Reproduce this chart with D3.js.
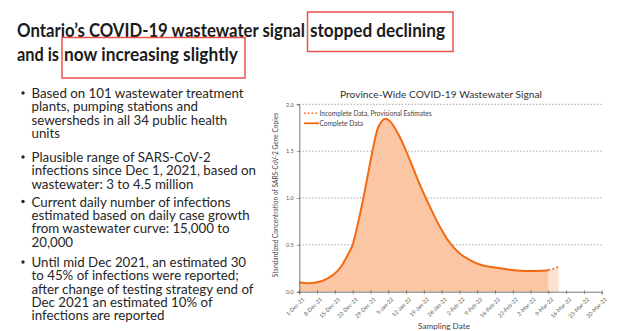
<!DOCTYPE html>
<html>
<head>
<meta charset="utf-8">
<script src="https://cdn.jsdelivr.net/npm/d3@7"></script>
<style>
  html, body { margin: 0; padding: 0; background: #fff; }
  svg { display: block; }
</style>
</head>
<body>
<svg id="canvas" width="640" height="331"></svg>
<script>
// title pieces
const titleLine1 = "Ontario\u2019s COVID-19 wastewater signal ";
const titleBox1 = "stopped declining";
const titleLine2 = "and is ";
const titleBox2 = "now increasing slightly";

// bullet points, one array per bullet (already wrapped like the slide)
const bullets = [
  ["Based on 101 wastewater treatment", "plants, pumping stations and", "sewersheds in all 34 public health", "units"],
  ["Plausible range of SARS-CoV-2", "infections since Dec 1, 2021, based on", "wastewater: 3 to 4.5 million"],
  ["Current daily number of infections", "estimated based on daily case growth", "from wastewater curve: 15,000 to", "20,000"],
  ["Until mid Dec 2021, an estimated 30", "to 45% of infections were reported;", "after change of testing strategy end of", "Dec 2021 an estimated 10% of", "infections are reported"]
];

// wastewater signal, complete data
const sampleDates = ["1-Dec-21", "4-Dec-21", "8-Dec-21", "12-Dec-21", "16-Dec-21", "18-Dec-21", "20-Dec-21",
  "22-Dec-21", "24-Dec-21", "26-Dec-21", "28-Dec-21", "30-Dec-21", "1-Jan-22", "4-Jan-22", "6-Jan-22",
  "9-Jan-22", "13-Jan-22", "17-Jan-22", "21-Jan-22", "25-Jan-22", "29-Jan-22", "2-Feb-22", "6-Feb-22",
  "10-Feb-22", "14-Feb-22", "18-Feb-22", "22-Feb-22", "26-Feb-22", "2-Mar-22", "6-Mar-22", "9-Mar-22"];
const signal = [0.10, 0.09, 0.10, 0.14, 0.22, 0.29, 0.39,
  0.50, 0.72, 0.97, 1.25, 1.53, 1.75, 1.845, 1.81,
  1.68, 1.44, 1.17, 0.93, 0.71, 0.53, 0.41, 0.34,
  0.29, 0.266, 0.25, 0.234, 0.223, 0.22, 0.223, 0.23];

// incomplete data, provisional estimates
const provDates = ["9-Mar-22", "11-Mar-22", "13-Mar-22"];
const provSignal = [0.23, 0.245, 0.265];

const xTickLabels = ["1-Dec-21", "8-Dec-21", "15-Dec-21", "22-Dec-21", "29-Dec-21", "5-Jan-22", "12-Jan-22",
  "19-Jan-22", "26-Jan-22", "2-Feb-22", "9-Feb-22", "16-Feb-22", "23-Feb-22", "2-Mar-22", "9-Mar-22",
  "16-Mar-22", "23-Mar-22", "30-Mar-22"];
const yTicks = [0, 0.5, 1.0, 1.5, 2.0];

const parse = d3.utcParse("%e-%b-%y");
const orange = "#f26a12";
const fillMain = "#fbc6a3";
const fillProv = "#fde2d1";

const svg = d3.select("#canvas");

// ---- slide title
const title = svg.append("g")
  .attr("font-family", "Lato, 'Open Sans', sans-serif")
  .attr("font-weight", "bold")
  .attr("font-size", 19.5)
  .attr("fill", "#1b1b1b");

title.append("text").attr("x", 17).attr("y", 37)
  .attr("textLength", 288).attr("lengthAdjust", "spacingAndGlyphs")
  .text(titleLine1.trim());
title.append("text").attr("x", 310).attr("y", 37)
  .attr("textLength", 135).attr("lengthAdjust", "spacingAndGlyphs")
  .text(titleBox1);
title.append("text").attr("x", 17).attr("y", 61)
  .attr("textLength", 42).attr("lengthAdjust", "spacingAndGlyphs")
  .text(titleLine2.trim());
title.append("text").attr("x", 64).attr("y", 61)
  .attr("textLength", 174).attr("lengthAdjust", "spacingAndGlyphs")
  .text(titleBox2);

svg.append("rect").attr("x", 307.5).attr("y", 12).attr("width", 145.5).attr("height", 39.5)
  .attr("fill", "none").attr("stroke", "#e9534c").attr("stroke-width", 1.5);
svg.append("rect").attr("x", 62).attr("y", 37.5).attr("width", 183).attr("height", 40.5)
  .attr("fill", "none").attr("stroke", "#e9534c").attr("stroke-width", 1.5);

// ---- bullets
const bulletG = svg.append("g")
  .attr("font-family", "Lato, 'Open Sans', sans-serif")
  .attr("font-size", 13.3)
  .attr("fill", "#262626");

const bulletTops = [93.5, 157.5, 202, 262.5];
const lineGap = 13.3;
bullets.forEach((lines, i) => {
  bulletG.append("circle").attr("cx", 23).attr("cy", bulletTops[i] - 0.5).attr("r", 1.7).attr("fill", "#262626");
  lines.forEach((line, j) => {
    bulletG.append("text")
      .attr("x", 31.5)
      .attr("y", bulletTops[i] + j * lineGap + 4.6)
      .text(line);
  });
});

// ---- chart
const x = d3.scaleUtc()
  .domain([parse(xTickLabels[0]), parse(xTickLabels[xTickLabels.length - 1])])
  .range([299.3, 601.7]);
const y = d3.scaleLinear().domain([0, 2]).range([291.7, 104.3]);

const chart = svg.append("g").attr("font-family", "Lato, 'Open Sans', sans-serif");

chart.append("text")
  .attr("x", 441).attr("y", 97.5)
  .attr("text-anchor", "middle")
  .attr("font-size", 10.2)
  .attr("fill", "#333")
  .text("Province-Wide COVID-19 Wastewater Signal");

// gridlines
chart.append("g")
  .selectAll("line")
  .data(yTicks.filter(d => d > 0))
  .join("line")
  .attr("x1", x.range()[0]).attr("x2", x.range()[1])
  .attr("y1", d => y(d)).attr("y2", d => y(d))
  .attr("stroke", "#8a8a8a").attr("stroke-width", 0.7)
  .attr("stroke-dasharray", "1.6,1.6");

const main = sampleDates.map((d, i) => ({ date: parse(d), v: signal[i] }));
const prov = provDates.map((d, i) => ({ date: parse(d), v: provSignal[i] }));

const area = d3.area().x(d => x(d.date)).y0(y(0)).y1(d => y(d.v)).curve(d3.curveMonotoneX);
const line = d3.line().x(d => x(d.date)).y(d => y(d.v)).curve(d3.curveMonotoneX);

chart.append("path").datum(prov).attr("d", area).attr("fill", fillProv);
chart.append("path").datum(main).attr("d", area).attr("fill", fillMain);
chart.append("path").datum(main).attr("d", line)
  .attr("fill", "none").attr("stroke", orange).attr("stroke-width", 2);
chart.append("path").datum(prov).attr("d", line)
  .attr("fill", "none").attr("stroke", orange).attr("stroke-width", 1.8)
  .attr("stroke-dasharray", "1.8,2.4");

// y axis
const yAxis = chart.append("g")
  .attr("transform", `translate(${x.range()[0]},0)`)
  .call(d3.axisLeft(y).tickValues(yTicks).tickFormat(d3.format(".1f")).tickSize(2.5).tickPadding(3));
yAxis.select(".domain").attr("stroke", "#555").attr("stroke-width", 0.8);
yAxis.selectAll(".tick line").attr("stroke", "#555").attr("stroke-width", 0.6);
yAxis.selectAll("text").attr("font-size", 5.5).attr("fill", "#555").attr("font-family", "Lato, sans-serif");

// x axis
const xAxis = chart.append("g")
  .attr("transform", `translate(0,${y(0)})`)
  .call(d3.axisBottom(x)
    .tickValues(xTickLabels.map(parse))
    .tickFormat((d, i) => xTickLabels[i])
    .tickSize(2.5).tickPadding(3));
xAxis.select(".domain").attr("stroke", "#555").attr("stroke-width", 0.8);
xAxis.selectAll(".tick line").attr("stroke", "#555").attr("stroke-width", 0.6).attr("y1", -1.5);
xAxis.selectAll("text")
  .attr("font-size", 5.5).attr("fill", "#555").attr("font-family", "Lato, sans-serif")
  .attr("text-anchor", "end")
  .attr("dy", "0.3em")
  .attr("transform", "translate(0,3) rotate(-45)");

// axis titles
chart.append("text")
  .attr("transform", "translate(278,195) rotate(-90)")
  .attr("text-anchor", "middle")
  .attr("font-size", 6.6)
  .attr("fill", "#444")
  .text("Standardized Concentration of SARS-CoV-2 Gene Copies");
chart.append("text")
  .attr("x", 444).attr("y", 328.5)
  .attr("text-anchor", "middle")
  .attr("font-size", 8.2)
  .attr("fill", "#444")
  .text("Sampling Date");

// legend
const legend = chart.append("g").attr("font-size", 6.6).attr("fill", "#444");
legend.append("line").attr("x1", 304).attr("x2", 319).attr("y1", 113.3).attr("y2", 113.3)
  .attr("stroke", orange).attr("stroke-width", 1.6).attr("stroke-dasharray", "1.6,2.2");
legend.append("text").attr("x", 319.5).attr("y", 115.6).text("Incomplete Data, Provisional Estimates");
legend.append("line").attr("x1", 304).attr("x2", 319).attr("y1", 123.3).attr("y2", 123.3)
  .attr("stroke", orange).attr("stroke-width", 1.8);
legend.append("text").attr("x", 319.5).attr("y", 125.6).text("Complete Data");
</script>
</body>
</html>
